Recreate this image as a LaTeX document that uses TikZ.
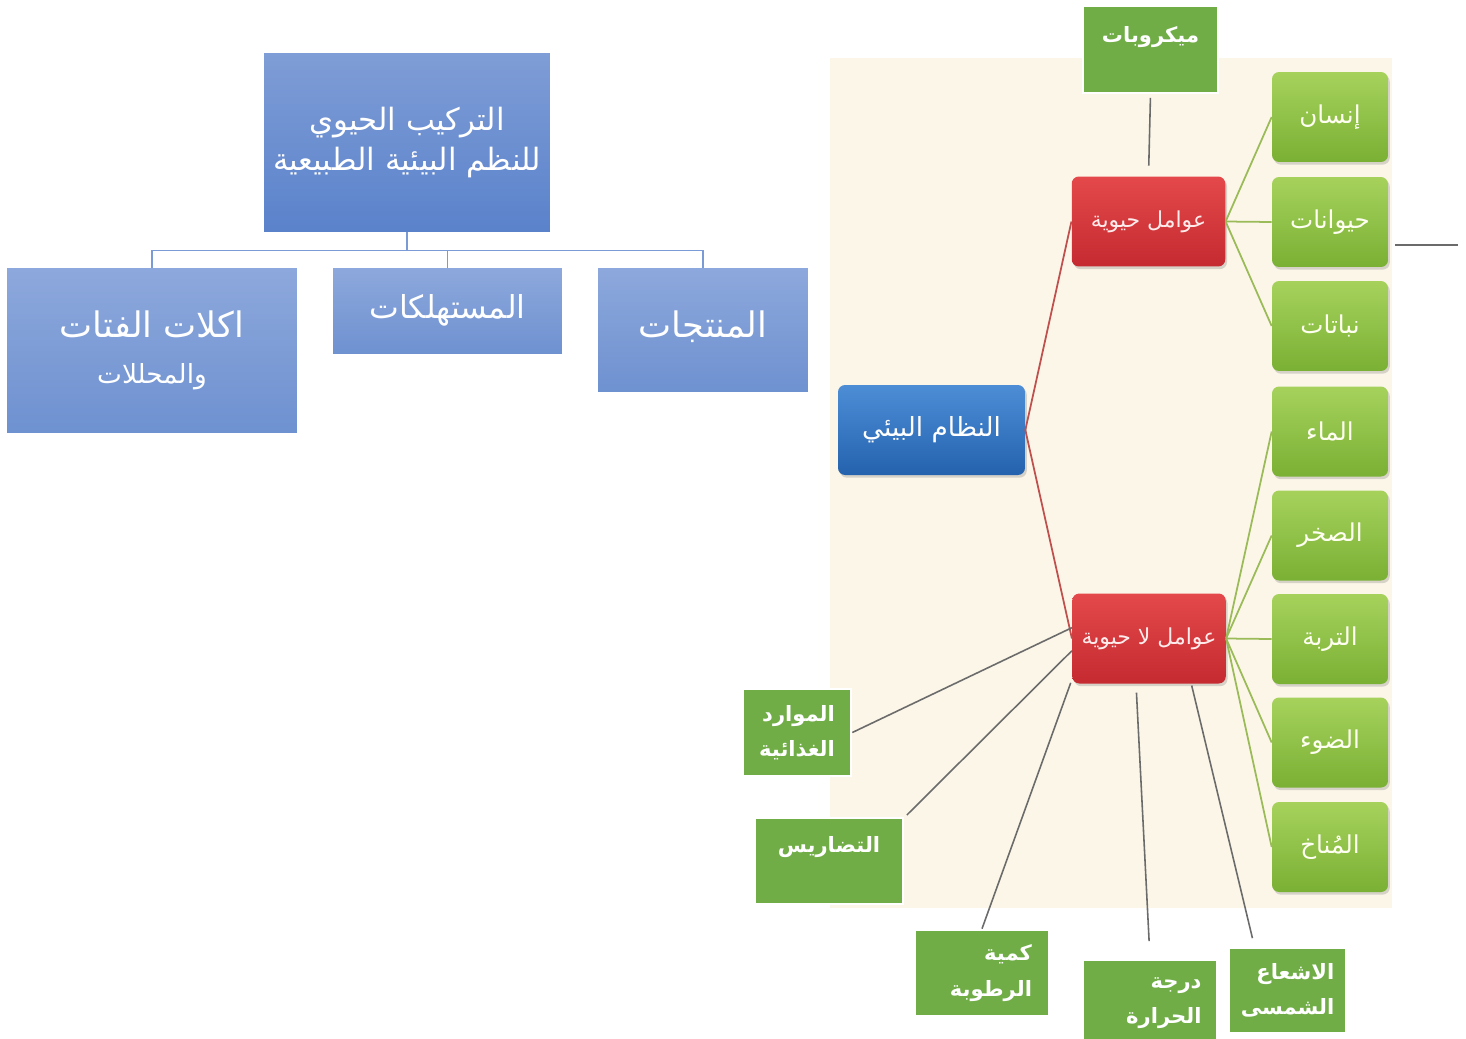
\documentclass[tikz,border=0pt]{standalone}
\usepackage{fontspec}
\newfontfamily\arabicfont[Script=Arabic]{DejaVu Sans}
\TeXXeTstate=1
\usetikzlibrary{shadows}
\newcommand{\artxt}[1]{\beginR #1\endR}
\definecolor{titletop}{HTML}{7F9DD6}
\definecolor{titlebot}{HTML}{5A82CB}
\definecolor{grouptop}{HTML}{8DA8DC}
\definecolor{groupbot}{HTML}{6E91D0}
\definecolor{treeblue}{HTML}{7B9BD6}
\definecolor{cream}{HTML}{FCF6E8}
\definecolor{ecotop}{HTML}{4D8DD6}
\definecolor{ecobot}{HTML}{2462AE}
\definecolor{redtop}{HTML}{E4484A}
\definecolor{redbot}{HTML}{C42A30}
\definecolor{leaftop}{HTML}{A6D25C}
\definecolor{leafbot}{HTML}{7AB034}
\definecolor{extragreen}{HTML}{70AD47}
\definecolor{linegray}{HTML}{6B6B6B}
\definecolor{linegreen}{HTML}{9BBB59}
\definecolor{linered}{HTML}{C0504D}
\begin{document}
\begin{tikzpicture}[x=0.02cm,y=-0.02cm,
  titlebox/.style={rectangle,top color=titletop,bottom color=titlebot,text=white,align=center,inner sep=0pt},
  groupbox/.style={rectangle,top color=grouptop,bottom color=groupbot,text=white,align=center,inner sep=0pt},
  treeline/.style={treeblue,line width=0.9pt},
  ecobox/.style={rectangle,rounded corners=4pt,top color=ecotop,bottom color=ecobot,text=white,
    drop shadow={opacity=0.3,shadow xshift=1pt,shadow yshift=-1.5pt},font=\arabicfont\fontsize{15}{18}\selectfont},
  factorbox/.style={rectangle,rounded corners=4pt,top color=redtop,bottom color=redbot,text=red!8,
    minimum width=3.07cm,minimum height=1.8cm,inner xsep=2pt,
    drop shadow={opacity=0.3,shadow xshift=1pt,shadow yshift=-1.5pt},font=\arabicfont\fontsize{12.5}{15}\selectfont},
  leafbox/.style={rectangle,rounded corners=4pt,top color=leaftop,bottom color=leafbot,text=green!4!yellow!6,
    minimum width=2.32cm,minimum height=1.8cm,
    drop shadow={opacity=0.3,shadow xshift=1pt,shadow yshift=-1.5pt},font=\arabicfont\fontsize{14}{17}\selectfont},
  extrabox/.style={rectangle,fill=extragreen,draw=white,line width=1.5pt,text=white,align=right,
    font=\arabicfont\bfseries\fontsize{12}{20}\selectfont},
  grayline/.style={linegray,line width=0.9pt},
  greenline/.style={linegreen,line width=1pt},
  redline/.style={linered,line width=1pt}]
\useasboundingbox (0,0) rectangle (1466,1038);

% left tree
\node[titlebox,minimum width=5.72cm,minimum height=3.58cm,font=\arabicfont\fontsize{17.5}{23}\selectfont]
  (title) at (407,142.5) {\artxt{التركيب الحيوي}\\\artxt{للنظم البيئية الطبيعية}};
\node[groupbox,minimum width=5.8cm,minimum height=3.3cm,font=\arabicfont\fontsize{20}{26}\selectfont]
  (decomp) at (152,350.5) {\artxt{اكلات الفتات}\\\fontsize{15}{18}\selectfont\artxt{والمحللات}};
\node[groupbox,minimum width=4.58cm,minimum height=1.72cm,font=\arabicfont\fontsize{18}{22}\selectfont,text depth=0.2cm]
  (consum) at (447.5,311) {\artxt{المستهلكات}};
\node[groupbox,minimum width=4.2cm,minimum height=2.48cm,font=\arabicfont\fontsize{20}{24}\selectfont,text depth=0.25cm]
  (produc) at (703,330) {\artxt{المنتجات}};
\foreach \g in {decomp,consum,produc}
  \draw[treeline] (title.south) -- ++(0,18) -| (\g.north);

% ecosystem panel
\fill[cream] (830,58) rectangle (1392,908);
\node[ecobox,minimum width=3.74cm,minimum height=1.8cm] (eco) at (931.5,430) {\artxt{النظام البيئي}};
\node[factorbox] (bio) at (1148.5,221.5) {\artxt{عوامل حيوية}};
\node[factorbox] (abio) at (1149,638.5) {\artxt{عوامل لا حيوية}};
\draw[redline] (eco.east) -- (bio.west);
\draw[redline] (eco.east) -- (abio.west);

\foreach \n/\y/\t in {human/117/إنسان,animal/222/حيوانات,plant/326/نباتات,water/431.5/الماء,
    rock/535.5/الصخر,soil/639/التربة,light/742.5/الضوء,climate/847/المُناخ}
  \node[leafbox] (\n) at (1330,\y) {\artxt{\t}};
\foreach \n in {human,animal,plant}
  \draw[greenline] (bio.east) -- (\n.west);
\foreach \n in {water,rock,soil,light,climate}
  \draw[greenline] (abio.east) -- (\n.west);

% extra factors
\node[extrabox,minimum width=2.7cm,minimum height=1.74cm,text depth=0.62cm] (micro) at (1150.5,49.5) {\artxt{ميكروبات}};
\draw[grayline,shorten <=2pt,shorten >=6pt] (micro.south) -- (bio.north);
\coordinate (stubL) at (1395,245);
\coordinate (stubR) at (1458,245);
\draw[grayline] (stubL) -- (stubR);

\node[extrabox,minimum width=2.16cm,minimum height=1.74cm] (food) at (797,732.5) {\artxt{الموارد}\\\artxt{الغذائية}};
\node[extrabox,minimum width=2.96cm,minimum height=1.72cm,text depth=0.66cm] (relief) at (829,861) {\artxt{التضاريس}};
\node[extrabox,minimum width=2.68cm,minimum height=1.72cm,text width=2cm] (humid) at (982,973) {\artxt{كمية}\\\artxt{الرطوبة}};
\node[extrabox,minimum width=2.68cm,minimum height=1.72cm,text width=2.06cm] (temp) at (1150,1003) {\artxt{درجة}\\\artxt{الحرارة}};
\node[extrabox,minimum width=2.34cm,minimum height=1.7cm] (solar) at (1287.5,990.5) {\artxt{الاشعاع}\\\artxt{الشمسى}};

\draw[grayline] (food.east) -- (abio.172);
\draw[grayline,shorten <=2pt] (relief.30) -- (abio.189);
\draw[grayline,shorten >=2pt] (humid.north) -- (abio.208);
\draw[grayline,shorten <=10pt,shorten >=5pt] (temp.north) -- (abio.254);
\draw[grayline,shorten <=5pt,shorten >=1pt] (solar.127) -- (abio.313);
\end{tikzpicture}
\end{document}
